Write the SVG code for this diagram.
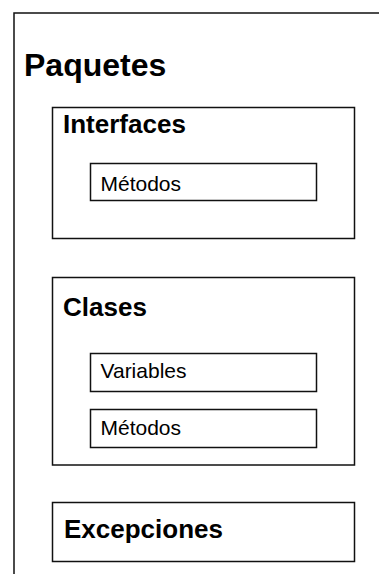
<svg xmlns="http://www.w3.org/2000/svg" width="379" height="574" viewBox="0 0 379 574">
  <style>
    .box { fill: #ffffff; stroke: #111111; stroke-width: 1.5; }
    .title { font-family: "Liberation Sans", Arial, sans-serif; font-weight: bold; fill: #000000; }
    .item { font-family: "Liberation Sans", Arial, sans-serif; font-size: 21px; fill: #000000; }
    .section { font-size: 26px; }
  </style>
  <rect width="379" height="574" fill="#ffffff"/>

  <!-- Package container (runs off the right and bottom edges) -->
  <g id="paquetes">
    <rect class="box" x="14" y="13" width="380" height="575"/>
    <text class="title" x="24" y="76" font-size="32">Paquetes</text>
  </g>

  <g id="interfaces">
    <rect class="box" x="52.5" y="107.5" width="302" height="131"/>
    <text class="title section" x="63" y="132.5">Interfaces</text>
  </g>
  <g id="interfaces-metodos">
    <rect class="box" x="90.5" y="163.5" width="226" height="37"/>
    <text class="item" x="100.5" y="190.5">Métodos</text>
  </g>

  <g id="clases">
    <rect class="box" x="52.5" y="277.5" width="302" height="187.5"/>
    <text class="title section" x="63" y="315.5">Clases</text>
  </g>
  <g id="clases-variables">
    <rect class="box" x="90.5" y="353.5" width="226" height="38"/>
    <text class="item" x="100.5" y="377.5">Variables</text>
  </g>
  <g id="clases-metodos">
    <rect class="box" x="90.5" y="409.5" width="226" height="38"/>
    <text class="item" x="100.5" y="434.5">Métodos</text>
  </g>

  <g id="excepciones">
    <rect class="box" x="52.5" y="502.5" width="302" height="59"/>
    <text class="title section" x="64" y="537.5">Excepciones</text>
  </g>

  <g id="connectors"/>
</svg>
